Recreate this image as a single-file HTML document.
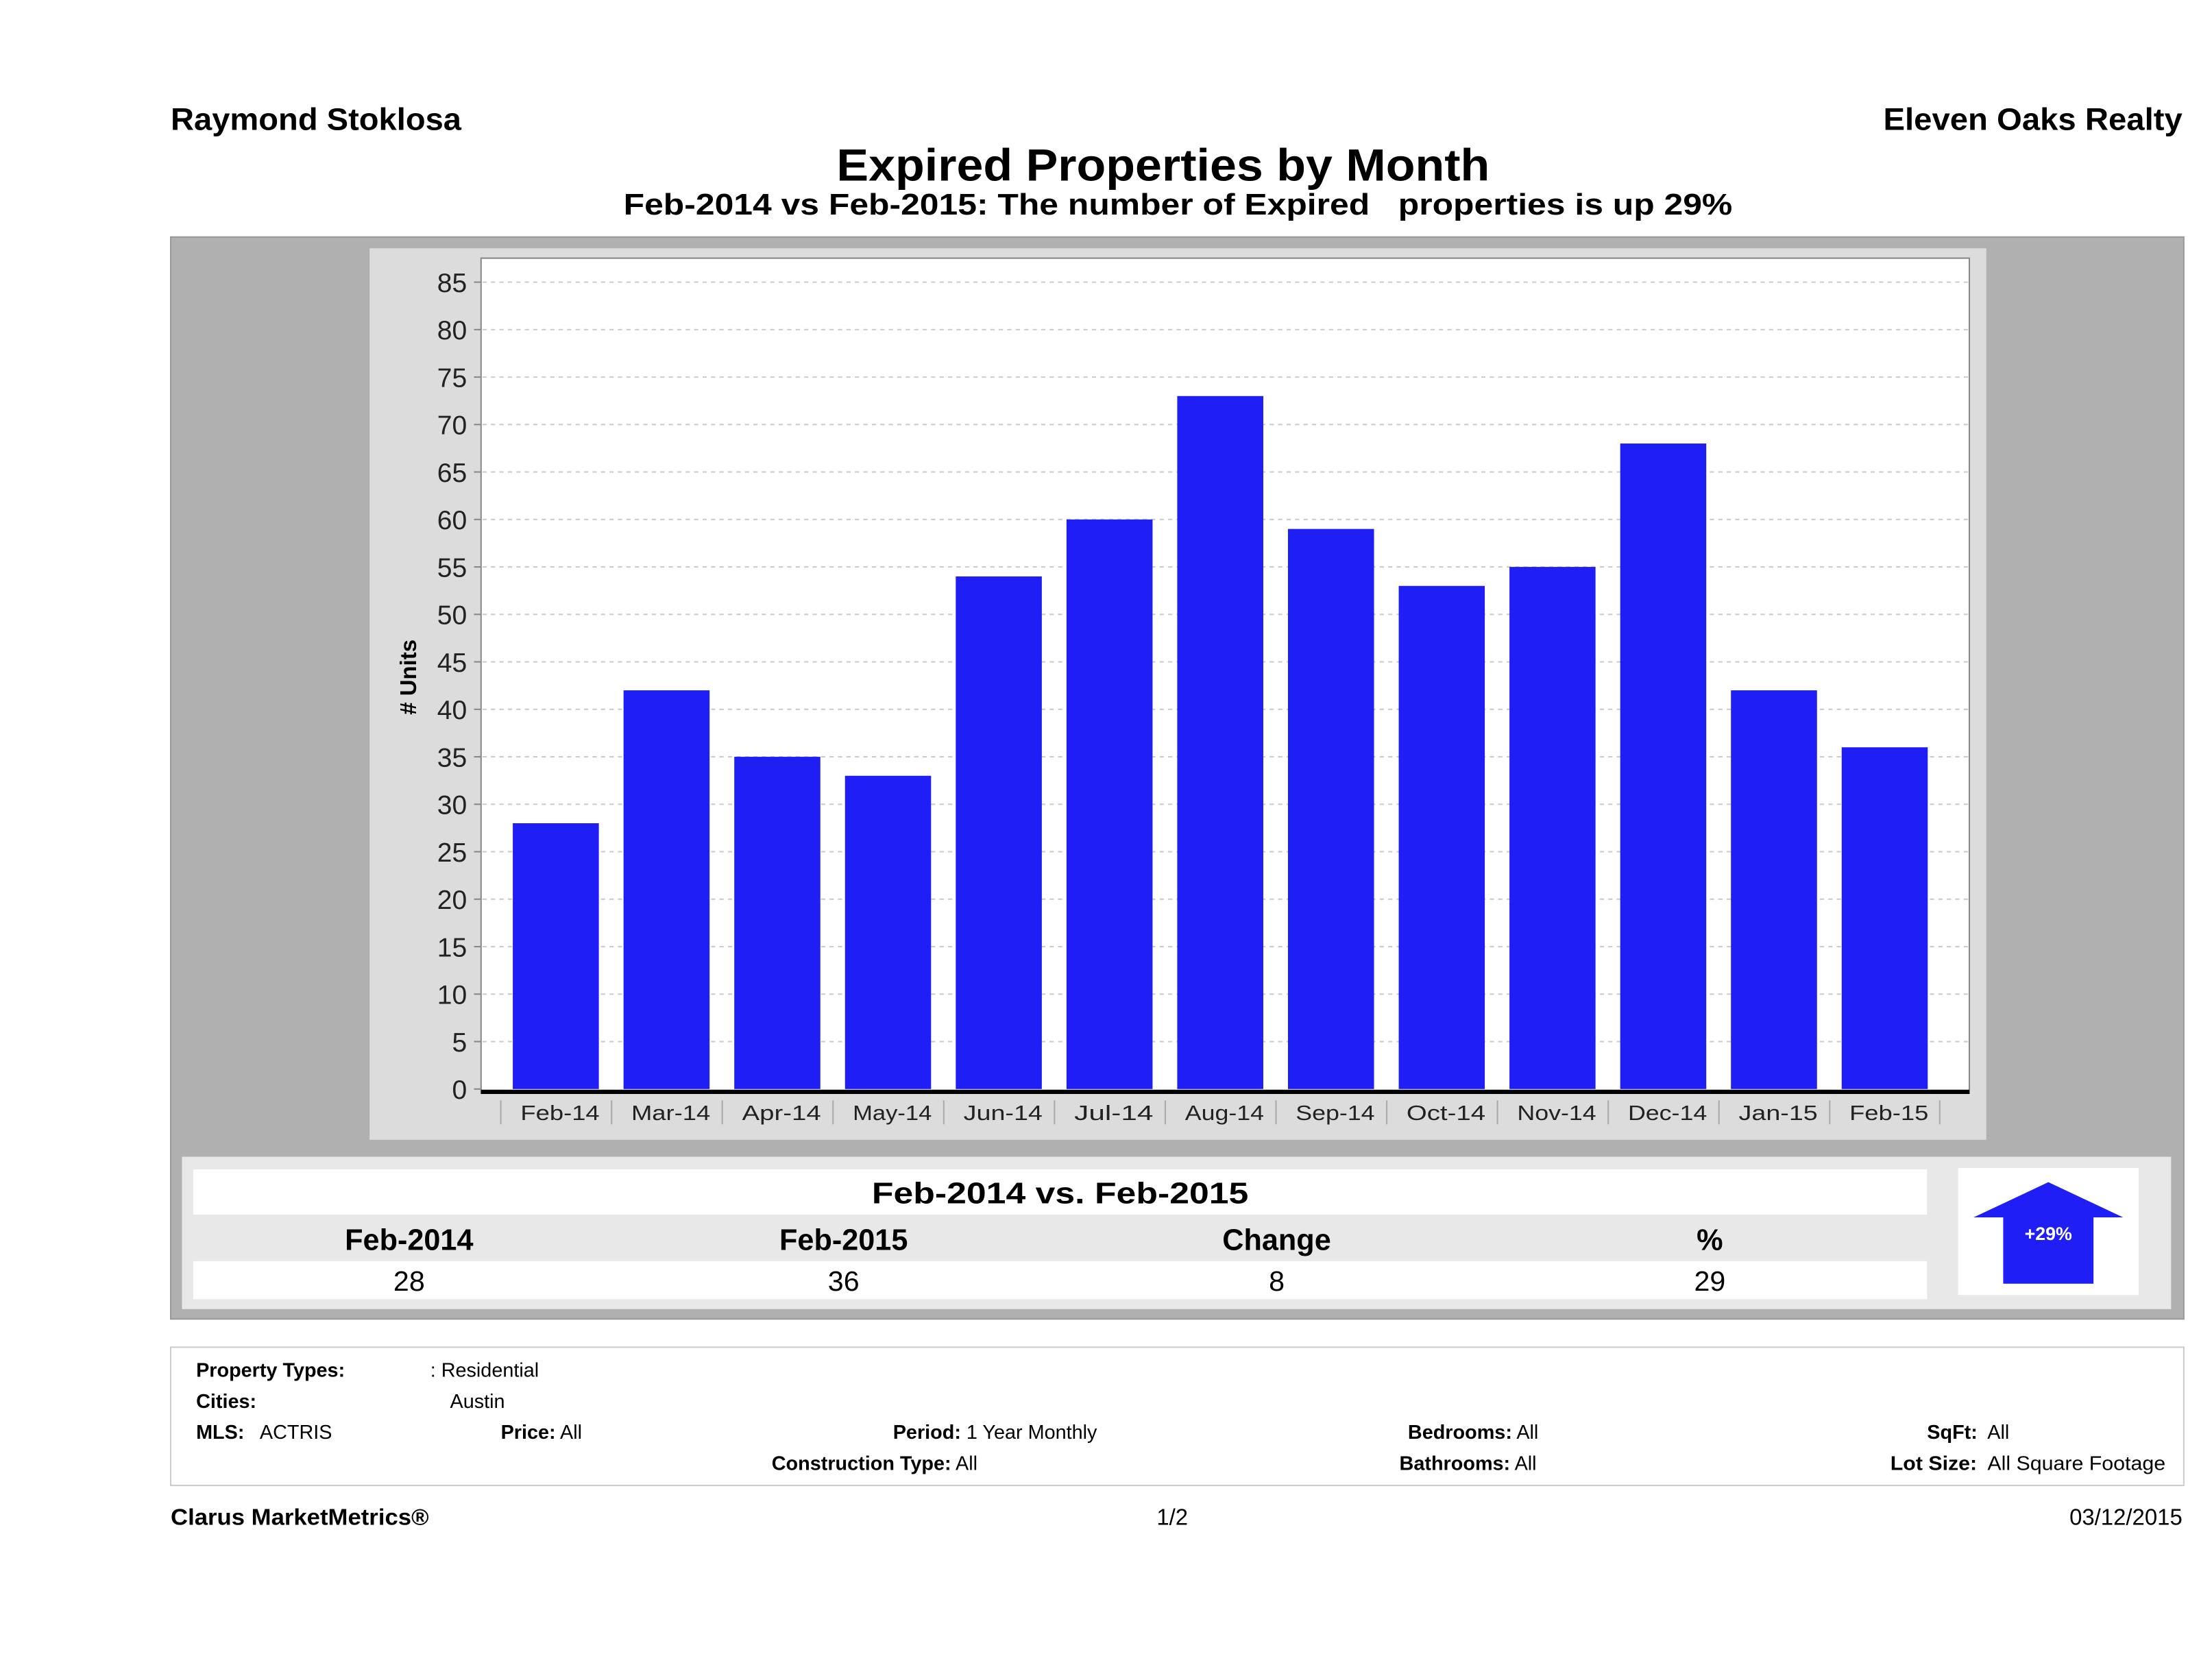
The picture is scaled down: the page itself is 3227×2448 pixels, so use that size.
<!DOCTYPE html>
<html><head><meta charset="utf-8"><style>
html,body{margin:0;padding:0;background:#fff;}
svg{display:block;font-family:"Liberation Sans",sans-serif;}
</style></head><body>
<svg id="chart" width="3227" height="2448" viewBox="0 0 1568 1189.5" preserveAspectRatio="none" xmlns="http://www.w3.org/2000/svg">
<text x="121" y="92" font-size="22" font-weight="bold" textLength="206" lengthAdjust="spacingAndGlyphs">Raymond Stoklosa</text>
<text x="1335" y="92" font-size="22" font-weight="bold" textLength="212" lengthAdjust="spacingAndGlyphs">Eleven Oaks Realty</text>
<text x="593" y="128" font-size="32" font-weight="bold" textLength="463" lengthAdjust="spacingAndGlyphs">Expired Properties by Month</text>
<text x="442" y="152" font-size="21" font-weight="bold" textLength="786" lengthAdjust="spacingAndGlyphs" xml:space="preserve">Feb-2014 vs Feb-2015: The number of Expired   properties is up 29%</text>
<rect x="121" y="168" width="1427" height="767" fill="#b0b0b0" stroke="#999"/>
<rect x="262" y="176" width="1146" height="632" fill="#dcdcdc"/>
<rect x="341" y="183" width="1055" height="592" fill="#fff" stroke="#888"/>
<g id="grid"></g>
<g id="bars"></g>
<g id="xlabels"></g>
<g id="ylabels"></g>
<line x1="341" y1="774" x2="1396" y2="774" stroke="#000" stroke-width="3"/>
<text transform="translate(295,480) rotate(-90)" font-size="16" font-weight="bold" text-anchor="middle"># Units</text>

<rect x="129" y="820" width="1410" height="108" fill="#e8e8e8"/>
<rect x="137" y="829" width="1229" height="32" fill="#fff"/>
<text x="618" y="853" font-size="21" font-weight="bold" textLength="267" lengthAdjust="spacingAndGlyphs">Feb-2014 vs. Feb-2015</text>
<rect x="137" y="894" width="1229" height="27" fill="#fff"/>
<text x="290" y="886" font-size="21" font-weight="bold" text-anchor="middle">Feb-2014</text>
<text x="598" y="886" font-size="21" font-weight="bold" text-anchor="middle">Feb-2015</text>
<text x="905" y="886" font-size="21" font-weight="bold" text-anchor="middle">Change</text>
<text x="1212" y="886" font-size="21" font-weight="bold" text-anchor="middle">%</text>
<text x="290" y="915" font-size="20" text-anchor="middle">28</text>
<text x="598" y="915" font-size="20" text-anchor="middle">36</text>
<text x="905" y="915" font-size="20" text-anchor="middle">8</text>
<text x="1212" y="915" font-size="20" text-anchor="middle">29</text>
<rect x="1388" y="828" width="128" height="90" fill="#fff"/>
<polygon points="1452,838 1505,863 1484,863 1484,910 1420,910 1420,863 1399,863" fill="#1e1ef5"/>
<text x="1452" y="879" font-size="13" fill="#fff" font-weight="bold" text-anchor="middle">+29%</text>

<rect x="121" y="955" width="1427" height="98" fill="#fff" stroke="#ccc"/>
<g font-size="14">
<text x="139" y="976" font-weight="bold">Property Types:</text>
<text x="305" y="976">: Residential</text>
<text x="139" y="998" font-weight="bold">Cities:</text>
<text x="319" y="998">Austin</text>
<text x="139" y="1020" xml:space="preserve"><tspan font-weight="bold">MLS:</tspan>   ACTRIS</text>
<text x="355" y="1020"><tspan font-weight="bold">Price:</tspan> All</text>
<text x="633" y="1020"><tspan font-weight="bold">Period:</tspan> 1 Year Monthly</text>
<text x="998" y="1020"><tspan font-weight="bold">Bedrooms:</tspan> All</text>
<text x="1366" y="1020" xml:space="preserve"><tspan font-weight="bold">SqFt:</tspan>  All</text>
<text x="547" y="1042"><tspan font-weight="bold">Construction Type:</tspan> All</text>
<text x="992" y="1042"><tspan font-weight="bold">Bathrooms:</tspan> All</text>
<text x="1340" y="1042" textLength="195" lengthAdjust="spacingAndGlyphs" xml:space="preserve"><tspan font-weight="bold">Lot Size:</tspan>  All Square Footage</text>
</g>
<text x="121" y="1081" font-size="16" font-weight="bold" textLength="183" lengthAdjust="spacingAndGlyphs">Clarus MarketMetrics®</text>
<text x="831" y="1081" font-size="16" text-anchor="middle">1/2</text>
<text x="1547" y="1081" font-size="16" text-anchor="end">03/12/2015</text>
</svg>
<script>
const categories = ["Feb-14","Mar-14","Apr-14","May-14","Jun-14","Jul-14","Aug-14","Sep-14","Oct-14","Nov-14","Dec-14","Jan-15","Feb-15"];
const values = [28,42,35,33,54,60,73,59,53,55,68,42,36];
const yTicks = [0,5,10,15,20,25,30,35,40,45,50,55,60,65,70,75,80,85];
const NS="http://www.w3.org/2000/svg";
const y0=772, y85=200;
function yScale(v){return y0-(v/85)*(y0-y85);}
function xCenter(i){return 394+i*78.5;}
const bw=61;
function mk(tag,attrs,parent){const e=document.createElementNS(NS,tag);for(const k in attrs)e.setAttribute(k,attrs[k]);document.getElementById(parent).appendChild(e);return e;}
yTicks.forEach(t=>{
  const y=yScale(t);
  if(t>0){const g=mk('line',{x1:342,x2:1395,y1:y,y2:y,stroke:'#ccc','stroke-dasharray':'3,3'},'grid');
  
  }
  const tk=mk('line',{x1:336,x2:341,y1:y,y2:y,stroke:'#888'},'grid');
  
  
  const l=mk('text',{x:331,y:y+7,'font-size':19,'text-anchor':'end',fill:'#222'},'ylabels');
  l.textContent=t;
  
  
});
categories.forEach((c,i)=>{
  const cx=xCenter(i),y=yScale(values[i]);
  const b=mk('rect',{x:cx-bw/2,y:y,width:bw,height:y0-y,fill:'#1e1ef5'},'bars');
  
  
  const l=mk('text',{x:cx+3,y:794,'font-size':15,'text-anchor':'middle',fill:'#222',textLength:56,lengthAdjust:'spacingAndGlyphs'},'xlabels');
  l.textContent=c;
  
  
  const s=mk('line',{x1:cx-39,x2:cx-39,y1:780,y2:797,stroke:'#aaa'},'xlabels');
  
  
});
const s2=mk('line',{x1:xCenter(12)+39,x2:xCenter(12)+39,y1:780,y2:797,stroke:'#aaa'},'xlabels');


</script>
</body></html>
